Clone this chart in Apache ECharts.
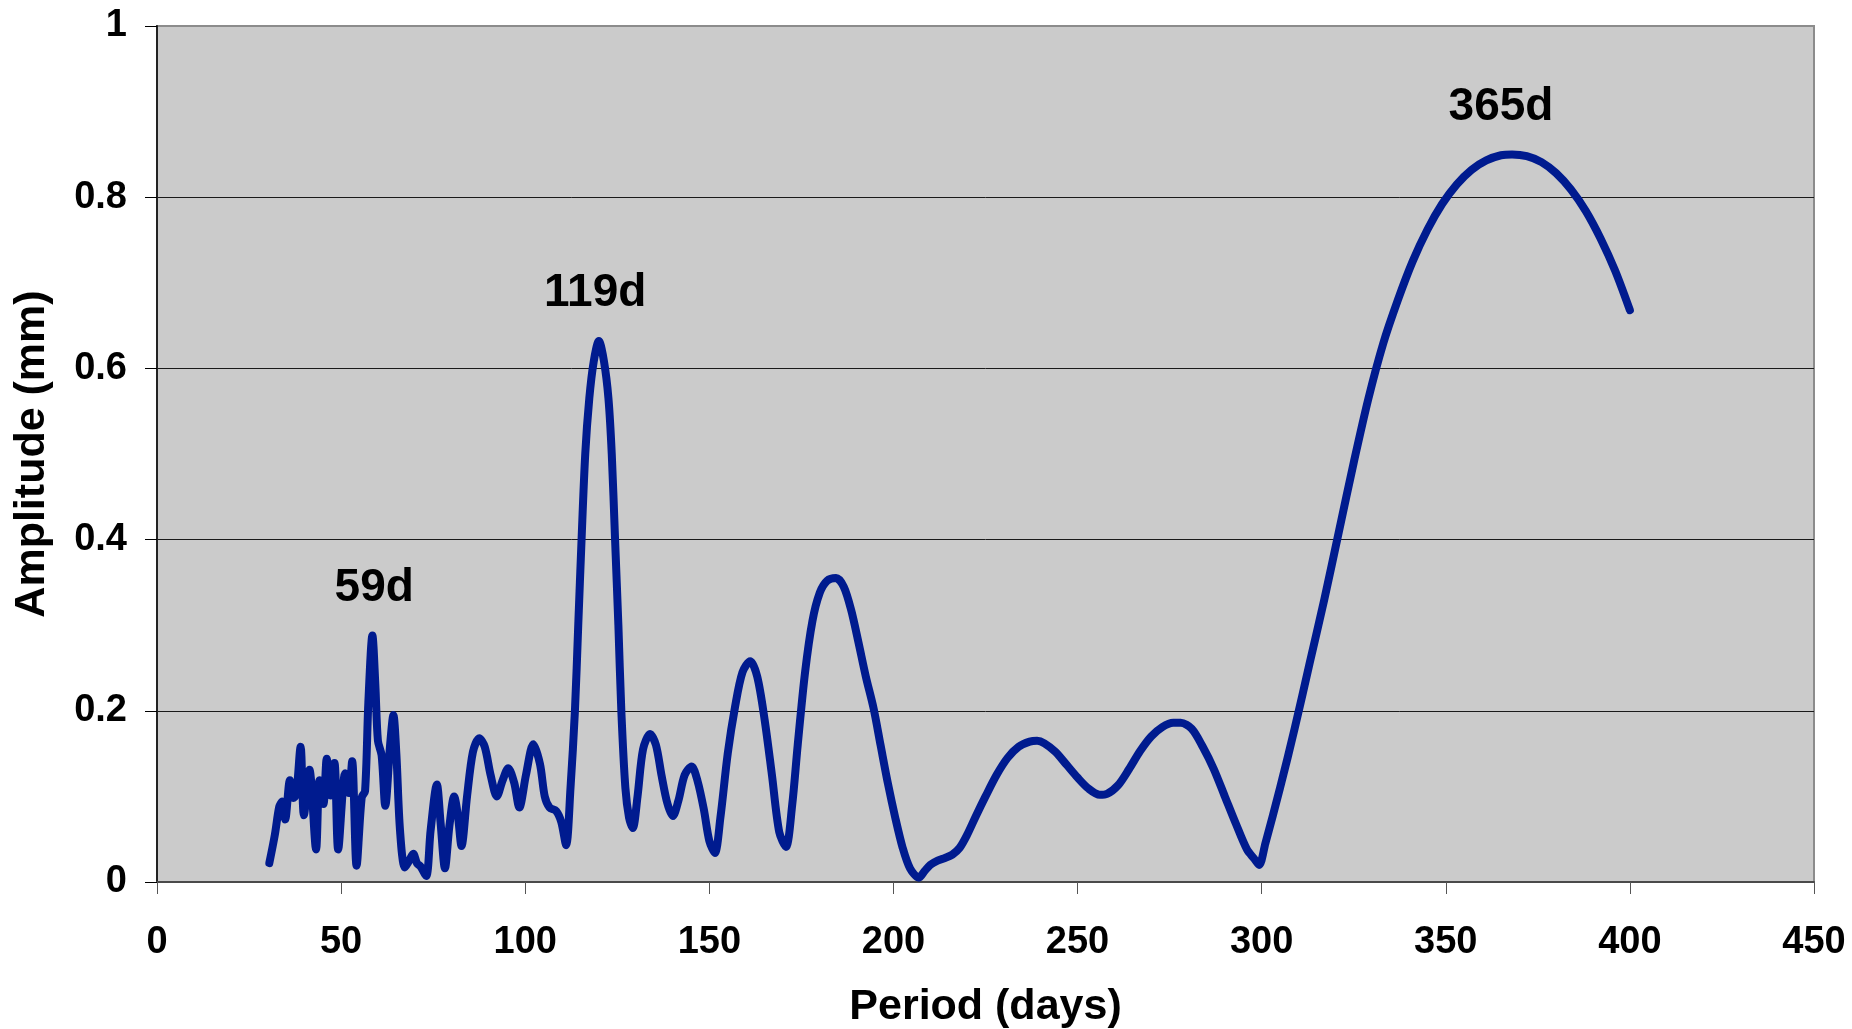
<!DOCTYPE html>
<html>
<head>
<meta charset="utf-8">
<title>Amplitude spectrum</title>
<script src="https://cdn.jsdelivr.net/npm/echarts@6/dist/echarts.min.js"></script>
<style>
  html, body { margin: 0; padding: 0; background: #ffffff; }
  #chart { width: 1852px; height: 1029px; }
</style>
</head>
<body>
<div id="chart"></div>
<script>
// Period (days) and amplitude (mm) of the spectrum curve
const periodDays = [
  30.5, 32.0, 33.2, 34.0, 34.8, 36.1, 37.0, 37.8, 39.0, 39.9,
  41.4, 43.2, 44.1, 45.2, 46.1, 47.1, 48.2, 49.2, 51.1, 52.1,
  53.0, 54.2, 55.6, 56.5, 57.4, 58.5, 59.3, 60.0, 61.0, 62.0,
  63.3, 64.2, 65.0, 66.0, 67.3, 68.5, 69.6, 70.6, 71.6, 73.1,
  74.3, 76.0, 77.0, 78.2, 79.4, 80.7, 81.7, 82.7, 84.2, 85.8,
  87.5, 89.0, 90.6, 92.3, 93.8, 95.4, 97.0, 98.4, 100.2, 102.2,
  104.0, 105.3, 106.6, 108.4, 109.8, 111.1, 112.3, 113.5, 114.4, 115.3,
  116.3, 117.4, 118.6, 120.0, 121.4, 122.6, 123.5, 124.4, 125.3, 126.1,
  127.2, 128.2, 129.2, 130.5, 132.0, 133.9, 135.5, 137.0, 138.6, 140.1,
  141.6, 143.3, 145.2, 146.8, 148.5, 150.0, 151.5, 153.0, 155.0, 157.0,
  159.0, 161.1, 163.0, 165.0, 167.0, 169.0, 170.8, 172.5, 174.0, 176.0,
  178.0, 180.0, 182.0, 184.4, 186.5, 188.5, 190.5, 192.5, 194.6, 196.5,
  198.5, 200.5, 202.5, 204.5, 206.9, 208.5, 210.0, 212.0, 214.0, 216.0,
  218.0, 220.0, 222.5, 225.0, 228.0, 231.0, 234.0, 237.0, 239.0, 241.0,
  244.0, 247.0, 250.0, 253.0, 256.0, 258.0, 261.0, 264.0, 267.0, 270.0,
  273.0, 276.0, 278.0, 281.0, 284.0, 287.0, 290.0, 293.0, 296.0, 298.0,
  299.3, 301.0, 305.0, 309.0, 313.0, 317.0, 321.0, 325.0, 329.0, 333.0,
  337.0, 341.0, 345.0, 349.0, 353.0, 357.0, 361.0, 365.0, 368.0, 372.0,
  376.0, 380.0, 384.0, 388.0, 392.0, 396.0, 400.0
];
const amplitudeMm = [
  0.022, 0.055, 0.088, 0.094, 0.073, 0.119, 0.098, 0.102, 0.158, 0.078,
  0.131, 0.038, 0.119, 0.091, 0.144, 0.101, 0.139, 0.038, 0.127, 0.104,
  0.141, 0.019, 0.099, 0.106, 0.210, 0.288, 0.230, 0.165, 0.148, 0.089,
  0.160, 0.195, 0.150, 0.060, 0.017, 0.025, 0.033, 0.022, 0.018, 0.007,
  0.060, 0.114, 0.070, 0.016, 0.065, 0.100, 0.078, 0.042, 0.100, 0.152,
  0.168, 0.158, 0.125, 0.100, 0.118, 0.133, 0.116, 0.087, 0.125, 0.161,
  0.138, 0.100, 0.087, 0.083, 0.070, 0.043, 0.110, 0.200, 0.300, 0.400,
  0.500, 0.565, 0.608, 0.632, 0.608, 0.565, 0.500, 0.400, 0.300, 0.200,
  0.110, 0.075, 0.063, 0.100, 0.155, 0.173, 0.160, 0.125, 0.092, 0.077,
  0.095, 0.125, 0.135, 0.118, 0.085, 0.048, 0.034, 0.075, 0.150, 0.205,
  0.245, 0.258, 0.240, 0.190, 0.125, 0.058, 0.041, 0.090, 0.160, 0.245,
  0.305, 0.338, 0.352, 0.355, 0.345, 0.318, 0.280, 0.240, 0.203, 0.160,
  0.115, 0.075, 0.040, 0.016, 0.005, 0.013, 0.020, 0.025, 0.028, 0.032,
  0.040, 0.055, 0.078, 0.100, 0.125, 0.145, 0.158, 0.164, 0.165, 0.162,
  0.152, 0.137, 0.122, 0.109, 0.102, 0.103, 0.113, 0.132, 0.153, 0.170,
  0.181, 0.186, 0.186, 0.179, 0.158, 0.132, 0.100, 0.068, 0.038, 0.027,
  0.020, 0.045, 0.110, 0.180, 0.255, 0.330, 0.410, 0.490, 0.565, 0.629,
  0.680, 0.725, 0.762, 0.792, 0.815, 0.832, 0.843, 0.849, 0.850, 0.848,
  0.841, 0.828, 0.809, 0.784, 0.752, 0.714, 0.668
];

// Annotated peaks
const peakNames = ['59d', '119d', '365d'];
const peakPeriods = [59, 119, 365];
const peakAmplitudes = [0.288, 0.632, 0.849];

// Axis scales
const xMin = 0, xMax = 450, xStep = 50;
const yMin = 0, yMax = 1, yStep = 0.2;

const FONT = "'Liberation Sans', Arial, sans-serif";
const PLOT_BG = '#cbcbcb';

const chart = echarts.init(document.getElementById('chart'), null, { renderer: 'canvas' });

chart.setOption({
  animation: false,
  backgroundColor: '#ffffff',
  grid: {
    left: 157, right: 38, top: 26, bottom: 147,
    outerBoundsMode: 'none',
    containLabel: false,
    show: true,
    backgroundColor: PLOT_BG,
    borderColor: '#8c8c8c',
    borderWidth: 2
  },
  xAxis: {
    type: 'value',
    min: xMin, max: xMax, interval: xStep,
    name: 'Period (days)',
    nameLocation: 'middle',
    nameGap: 104,
    nameTextStyle: { fontFamily: FONT, fontWeight: 'bold', fontSize: 43, color: '#000' },
    axisLine: { show: true, onZero: false, lineStyle: { color: '#4a4a4a', width: 2 } },
    axisTick: { show: true, inside: false, length: 12, lineStyle: { color: '#555', width: 1 } },
    axisLabel: { margin: 42, fontFamily: FONT, fontWeight: 'bold', fontSize: 38, color: '#000' },
    splitLine: { show: false }
  },
  yAxis: {
    type: 'value',
    min: yMin, max: yMax, interval: yStep,
    name: 'Amplitude (mm)',
    nameLocation: 'middle',
    nameRotate: 90,
    nameGap: 103,
    nameTextStyle: { fontFamily: FONT, fontWeight: 'bold', fontSize: 43, color: '#000' },
    axisLine: { show: true, lineStyle: { color: '#222', width: 2 } },
    axisTick: { show: true, inside: false, length: 12, lineStyle: { color: '#000', width: 1 } },
    axisLabel: { margin: 30, fontFamily: FONT, fontWeight: 'bold', fontSize: 38, color: '#000' },
    splitLine: {
      show: true,
      lineStyle: { color: ['#1a1a1a', '#1a1a1a', '#1a1a1a', '#1a1a1a', '#1a1a1a', '#8c8c8c'], width: 1 }
    }
  },
  series: [
    {
      name: 'Amplitude',
      type: 'line',
      data: periodDays.map((d, i) => [d, amplitudeMm[i]]),
      smooth: 0.3,
      showSymbol: false,
      symbol: 'none',
      lineStyle: { color: '#001b8f', width: 8, cap: 'round', join: 'round' },
      z: 3
    },
    {
      name: 'Peaks',
      type: 'scatter',
      data: peakPeriods.map((p, i) => ({ value: [p, peakAmplitudes[i]], name: peakNames[i] })),
      symbolSize: 1,
      itemStyle: { color: PLOT_BG, opacity: 1 },
      label: {
        show: true,
        position: 'top',
        distance: 24,
        formatter: (p) => p.name,
        fontFamily: FONT,
        fontWeight: 'bold',
        fontSize: 46,
        color: '#000',
        opacity: 1
      },
      z: 2
    }
  ]
});
</script>
</body>
</html>
